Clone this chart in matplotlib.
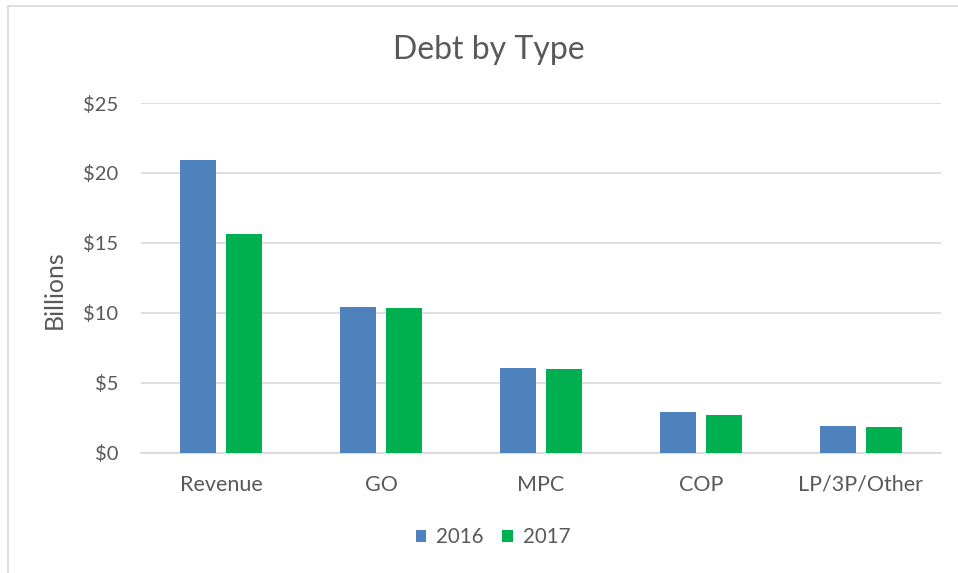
import matplotlib.pyplot as plt
import numpy as np
from matplotlib.patches import Rectangle

categories = ["Revenue", "GO", "MPC", "COP", "LP/3P/Other"]
debt_2016 = [20.9, 10.4, 6.08, 2.9, 1.89]
debt_2017 = [15.63, 10.31, 6.01, 2.71, 1.84]
y_ticks = [0, 5, 10, 15, 20, 25]

BLUE = "#4F81BD"
GREEN = "#00B050"
TEXT = "#595959"
GRID = "#D9D9D9"

plt.rcParams["font.family"] = ["Lato", "DejaVu Sans"]

fig = plt.figure(figsize=(9.58, 5.73), dpi=100)
ax = fig.add_axes([141 / 958, 120.3 / 573, 800 / 958, 349.7 / 573])

# outer chart frame (only top/left visible in the reference crop)
fig.patches.append(Rectangle((8 / 958, -0.1), 1.2, (573 - 6) / 573 + 0.1,
                             transform=fig.transFigure, fill=False,
                             edgecolor=GRID, linewidth=1.2))

x = np.arange(len(categories))
width = 0.225
offset = 0.144
ax.bar(x - offset, debt_2016, width, color=BLUE, label="2016", zorder=3)
ax.bar(x + offset, debt_2017, width, color=GREEN, label="2017", zorder=3)

ax.set_xlim(-0.5, len(categories) - 0.5)
ax.set_ylim(0, 25)
ax.set_yticks(y_ticks)
ax.set_yticklabels([f"${v}" for v in y_ticks])
ax.set_xticks(x)
ax.set_xticklabels(categories)
ax.tick_params(axis="x", length=0, labelsize=15.5, colors=TEXT, pad=16)
ax.tick_params(axis="y", length=0, labelsize=14.5, colors=TEXT, pad=16.5)

ax.grid(axis="y", color=GRID, linewidth=1.2, zorder=0)
for side in ["top", "right", "left"]:
    ax.spines[side].set_visible(False)
ax.spines["bottom"].set_color(GRID)
ax.spines["bottom"].set_linewidth(1.2)

fig.text(54 / 958, 1 - 289.5 / 573, "Billions", rotation=90, ha="center",
         va="center", fontsize=18, color=TEXT)
fig.text(489 / 958, 1 - 50 / 573, "Debt by Type", ha="center", va="center",
         fontsize=23, color=TEXT)

fig.legend(loc="center", bbox_to_anchor=(493 / 958, 1 - 537 / 573), ncol=2,
           frameon=False, fontsize=14.8, labelcolor=TEXT, handlelength=0.5,
           handleheight=0.5, handletextpad=0.5, columnspacing=0.9)

fig.savefig("out.png", dpi=100)
